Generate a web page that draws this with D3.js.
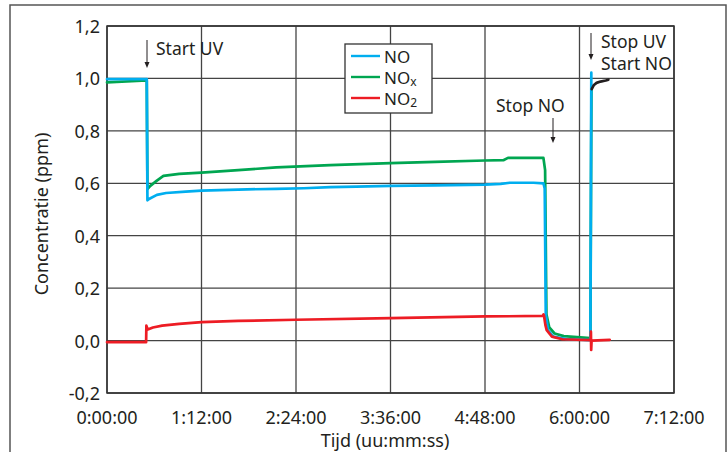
<!DOCTYPE html>
<html>
<head>
<meta charset="utf-8">
<script src="https://cdn.jsdelivr.net/npm/d3@7"></script>
<style>
  body { margin: 0; background: #fff; }
  text { font-family: "Noto Sans", "Open Sans", sans-serif; fill: #231f20; }
</style>
</head>
<body>
<div id="chart"></div>
<script>
// time in minutes, concentration in ppm
var noTime = [0, 30.3, 30.8, 32, 38, 45, 60, 72, 100, 129, 150, 170, 190, 216, 250, 288, 300, 307, 325, 332.5, 333.5, 334.3, 336, 340, 350, 368.3, 369];
var noVal  = [0.997, 0.997, 0.535, 0.54, 0.556, 0.563, 0.568, 0.572, 0.576, 0.579, 0.581, 0.585, 0.587, 0.590, 0.592, 0.595, 0.598, 0.602, 0.602, 0.600, 0.58, 0.10, 0.04, 0.015, 0.006, 0.002, 1.022];

var noxTime = [0, 30.3, 30.8, 33, 38, 43, 55, 72, 100, 129, 170, 216, 250, 288, 302, 305.5, 332.5, 333.8, 334.8, 337, 341, 348, 368.3, 369.1];
var noxVal  = [0.985, 0.992, 0.578, 0.59, 0.61, 0.628, 0.636, 0.641, 0.650, 0.661, 0.669, 0.677, 0.682, 0.687, 0.688, 0.697, 0.697, 0.65, 0.10, 0.05, 0.027, 0.017, 0.009, 0.96];

var no2Time = [0, 29.8, 30, 31, 35, 42, 55, 72, 100, 144, 216, 288, 332, 332.6, 333, 334, 335, 339, 347, 368.5, 368.7, 368.9, 369.2, 383];
var no2Val  = [-0.006, -0.006, 0.057, 0.042, 0.05, 0.057, 0.064, 0.070, 0.075, 0.0795, 0.086, 0.092, 0.094, 0.10, 0.094, 0.06, 0.04, 0.015, 0.005, 0.002, 0.034, -0.036, 0.0, 0.003];

// short dark trace after restart
var restartTime = [369.3, 371, 373, 376, 380, 382];
var restartVal  = [0.959, 0.975, 0.983, 0.988, 0.992, 0.995];

var xTicks = [0, 72, 144, 216, 288, 360, 432];
var xTickLabels = ["0:00:00", "1:12:00", "2:24:00", "3:36:00", "4:48:00", "6:00:00", "7:12:00"];
var yTicks = [-0.2, 0, 0.2, 0.4, 0.6, 0.8, 1.0, 1.2];
var yTickLabels = ["-0,2", "0,0", "0,2", "0,4", "0,6", "0,8", "1,0", "1,2"];

var legendNames = ["NO", "NO", "NO"];
var legendSubs = ["", "x", "2"];
var legendColors = ["#00aeef", "#00a651", "#ed1c24"];

var width = 728, height = 452;
var plot = {left: 107, right: 674, top: 26, bottom: 393};
var fs = "18px";

var svg = d3.select("#chart").append("svg")
    .attr("width", width)
    .attr("height", height);

// outer frame
svg.append("path")
    .attr("d", "M10," + height + "V5H726V" + height)
    .attr("fill", "none")
    .attr("stroke", "#555")
    .attr("stroke-width", 1.5);

var x = d3.scaleLinear().domain([0, 432]).range([plot.left, plot.right]);
var y = d3.scaleLinear().domain([-0.2, 1.2]).range([plot.bottom, plot.top]);

// grid
svg.append("g").selectAll("line").data(xTicks).enter().append("line")
    .attr("x1", d => x(d)).attr("x2", d => x(d))
    .attr("y1", plot.top).attr("y2", plot.bottom)
    .attr("stroke", "#444").attr("stroke-width", 1.3);
svg.append("g").selectAll("line").data(yTicks).enter().append("line")
    .attr("x1", plot.left).attr("x2", plot.right)
    .attr("y1", d => y(d)).attr("y2", d => y(d))
    .attr("stroke", "#444").attr("stroke-width", 1.3);

svg.append("rect")
    .attr("x", plot.left).attr("y", plot.top)
    .attr("width", plot.right - plot.left).attr("height", plot.bottom - plot.top)
    .attr("fill", "none").attr("stroke", "#333").attr("stroke-width", 1.5);

// tick labels
svg.append("g").selectAll("text").data(xTicks).enter().append("text")
    .attr("x", d => x(d)).attr("y", 417)
    .attr("text-anchor", "middle").attr("dominant-baseline", "central")
    .style("font-size", fs)
    .text((d, i) => xTickLabels[i]);
svg.append("g").selectAll("text").data(yTicks).enter().append("text")
    .attr("x", 100).attr("y", d => y(d))
    .attr("text-anchor", "end").attr("dominant-baseline", "central")
    .style("font-size", fs)
    .text((d, i) => yTickLabels[i]);

svg.append("text")
    .attr("x", 385).attr("y", 440)
    .attr("text-anchor", "middle").attr("dominant-baseline", "central")
    .style("font-size", fs)
    .text("Tijd (uu:mm:ss)");
svg.append("text")
    .attr("transform", "translate(41,214) rotate(-90)")
    .attr("text-anchor", "middle").attr("dominant-baseline", "central")
    .style("font-size", fs)
    .text("Concentratie (ppm)");

// series
var line = d3.line().x(d => x(d[0])).y(d => y(d[1]));
function zip(t, v) { return t.map((d, i) => [d, v[i]]); }

var series = [
    {pts: zip(noxTime, noxVal), color: "#00a651"},
    {pts: zip(noTime, noVal), color: "#00aeef"},
    {pts: zip(no2Time, no2Val), color: "#ed1c24"},
    {pts: zip(restartTime, restartVal), color: "#231f20"}
];
svg.append("g").selectAll("path").data(series).enter().append("path")
    .attr("d", d => line(d.pts))
    .attr("fill", "none")
    .attr("stroke", d => d.color)
    .attr("stroke-width", 2.7)
    .attr("stroke-linejoin", "round")
    .attr("stroke-linecap", "round");

// legend
var lg = svg.append("g");
lg.append("rect")
    .attr("x", 345).attr("y", 44).attr("width", 87).attr("height", 69)
    .attr("fill", "#fff").attr("stroke", "#333").attr("stroke-width", 1.3);
legendNames.forEach(function (n, i) {
    var ly = 56 + i * 21;
    lg.append("line")
        .attr("x1", 351).attr("x2", 380).attr("y1", ly).attr("y2", ly)
        .attr("stroke", legendColors[i]).attr("stroke-width", 2.4);
    var t = lg.append("text")
        .attr("x", 384).attr("y", ly)
        .attr("dominant-baseline", "central")
        .style("font-size", "17px")
        .text(n);
    if (legendSubs[i]) {
        t.append("tspan").attr("dy", 4).style("font-size", "12px").text(legendSubs[i]);
    }
});

// annotations
function arrow(ax, y1, y2) {
    svg.append("line")
        .attr("x1", ax).attr("x2", ax).attr("y1", y1).attr("y2", y2 - 5)
        .attr("stroke", "#231f20").attr("stroke-width", 1);
    svg.append("path")
        .attr("d", "M" + (ax - 2.5) + "," + (y2 - 6) + "L" + (ax + 2.5) + "," + (y2 - 6) + "L" + ax + "," + y2 + "Z")
        .attr("fill", "#231f20");
}
function label(tx, ty, s) {
    svg.append("text")
        .attr("x", tx).attr("y", ty)
        .attr("dominant-baseline", "central")
        .style("font-size", "17.5px")
        .text(s);
}
arrow(147, 40, 68);
label(156, 48, "Start UV");
arrow(553, 118, 143);
label(496, 105, "Stop NO");
arrow(591, 33, 60);
label(601, 41, "Stop UV");
label(601, 63, "Start NO");
</script>
</body>
</html>
